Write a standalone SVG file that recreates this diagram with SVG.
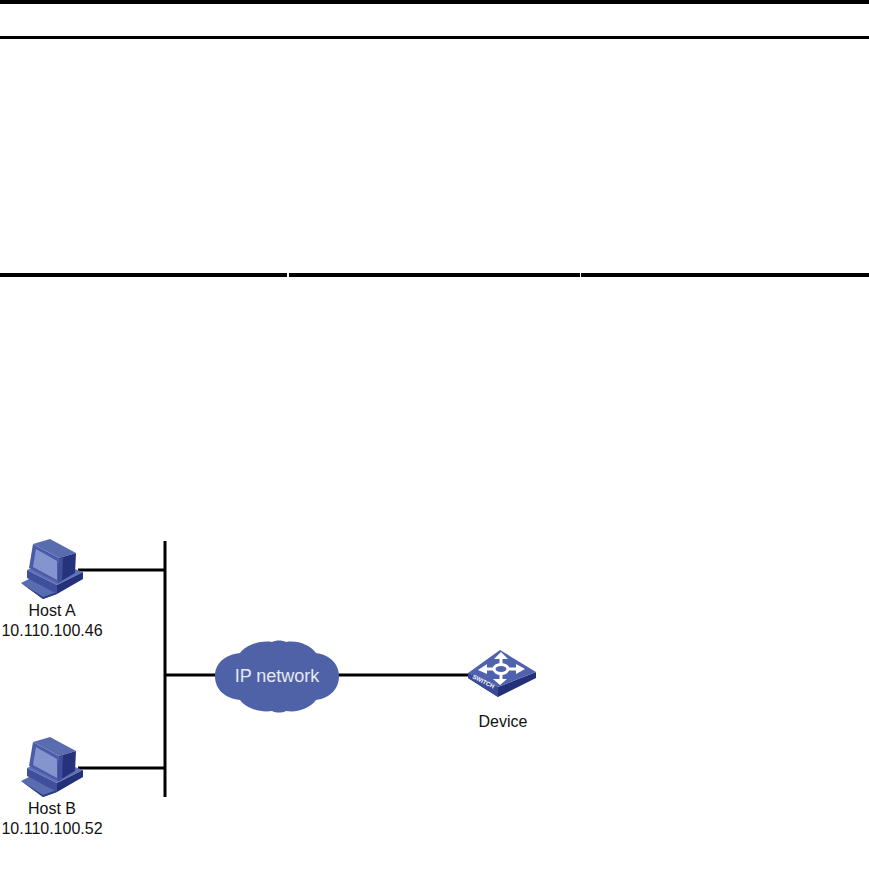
<svg xmlns="http://www.w3.org/2000/svg" width="869" height="892" viewBox="0 0 869 892">
<style>
.rule{fill:#000}
.wire{stroke:#000;stroke-width:3;fill:none}
.lbl{font-family:"Liberation Sans",Arial,sans-serif;font-size:16px;fill:#111;text-anchor:middle}
.cl{font-family:"Liberation Sans",Arial,sans-serif;font-size:18px;fill:#e6e9f5;text-anchor:middle}
</style>
<defs>
<g id="pc">
<polygon points="21,583 33,577 57,590 57,594 43,599" fill="#5a6cb0"/>
<polygon points="21,583 43,597 57,592 57,594 43,599" fill="#2b3a85"/>
<polygon points="27,570 50,560 83,572 57,585" fill="#5f70b5"/>
<polygon points="27,570 57,585 57,594 27,578" fill="#3f4f9c"/>
<polygon points="57,585 83,572 83,579 57,594" fill="#24317a"/>
<polygon points="33,544 59,558 58,583 29,568" fill="#4a5ba8"/>
<polygon points="33,544 50,539 76,553 59,558" fill="#5a6cb0"/>
<polygon points="59,558 76,553 75,573 58,583" fill="#26337c"/>
<polygon points="59,558 63,557 62,581 58,583" fill="#3f4f9c"/>
<polygon points="36,549 57,561 57,580 33,567" fill="#8494cf"/>
</g>
</defs>
<g id="table-rules">
<rect class="rule" x="0" y="0" width="869" height="4"/>
<rect class="rule" x="0" y="36" width="869" height="3"/>
<rect class="rule" x="0" y="273" width="287" height="4"/>
<rect class="rule" x="289" y="273" width="291" height="4"/>
<rect class="rule" x="581" y="273" width="288" height="4"/>
</g>
<g id="connectors">
<path class="wire" d="M78 570H165"/>
<path class="wire" d="M78 768H165"/>
<path class="wire" d="M165 675H220"/>
<path class="wire" d="M335 675H470"/>
<path class="wire" d="M165 541V797"/>
</g>
<g id="host-a">
<use href="#pc"/>
<text class="lbl" x="52" y="616">Host A</text>
<text class="lbl" x="52" y="635.5">10.110.100.46</text>
</g>
<g id="host-b">
<use href="#pc" y="198"/>
<text class="lbl" x="52" y="814">Host B</text>
<text class="lbl" x="52" y="833.5">10.110.100.52</text>
</g>
<g id="ip-network">
<path d="M215 676C215 664 224 655 240 653C246 645 260 640 272 642C276 640 282 640 286 642C298 640 310 645 316 653C330 655 339 664 339 676C339 689 330 698 316 700C310 708 298 713 286 711C282 713 276 713 272 711C260 713 246 708 240 700C224 698 215 689 215 676Z" fill="#4f62a8"/>
<text class="cl" x="277" y="682">IP network</text>
</g>
<g id="device">
<polygon points="468,673 498,687 536,672 536,678 498,697 468,678" fill="#24317a"/>
<polygon points="468,673 498,687 498,697 468,678" fill="#3a4a98"/>
<polygon points="468,673 500,650 536,672 498,687" fill="#4f62ad"/>
<g stroke="#fff" stroke-width="3" fill="none">
<ellipse cx="501" cy="669" rx="7" ry="4.5"/>
<path d="M501 664V658M501 674V680M493 669H485M509 669H518"/>
</g>
<g fill="#fff">
<polygon points="501,652 494,659 508,659"/>
<polygon points="500,685 493,679 507,679"/>
<polygon points="478,670 487,664 487,674"/>
<polygon points="525,669 516,664 516,674"/>
</g>
<text x="0" y="0" transform="translate(472,678) rotate(27)" style="font-family:'Liberation Sans',sans-serif;font-size:6px;font-weight:bold;fill:#fff">SWITCH</text>
<text class="lbl" x="503" y="727">Device</text>
</g>
</svg>
